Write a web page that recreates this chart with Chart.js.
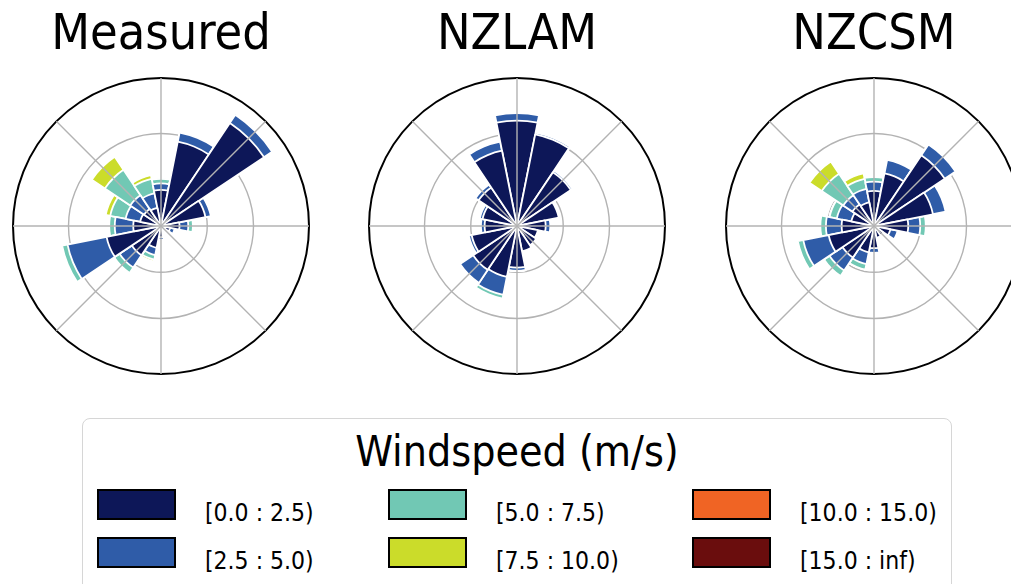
<!DOCTYPE html>
<html>
<head>
<meta charset="utf-8">
<script src="https://cdn.jsdelivr.net/npm/chart.js@4.4.1/dist/chart.umd.min.js"></script>
<style>
  html, body { margin: 0; padding: 0; background: #fff; }
  body { width: 1011px; height: 584px; overflow: hidden; position: relative;
         font-family: "DejaVu Sans Condensed", "DejaVu Sans", sans-serif; color: #000; }
  .rose { position: absolute; top: 0; width: 300px; height: 376px; }
  #legend { position: absolute; left: 82px; top: 418px; width: 870px; height: 200px;
            border: 1.5px solid #d6d6d6; border-radius: 8px; box-sizing: border-box; background: #fff; }
  #legend .title { text-align: center; font-size: 42.5px; line-height: 42px; margin-top: 12px; }
  #legend .items { display: grid; grid-template-columns: 291px 304px 260px; grid-template-rows: 48px 48px;
                   grid-auto-flow: column; margin-top: 16px; padding-left: 14px; }
  #legend .item { display: flex; align-items: flex-start; }
  #legend .patch { width: 79px; height: 31px; border: 2px solid #000; box-sizing: border-box; flex: none; }
  #legend .label { margin-left: 29px; padding-top: 12px; font-size: 24.5px; line-height: 24px; white-space: nowrap; }
</style>
</head>
<body>
<div class="rose" style="left: 11px;"><canvas id="measured"></canvas></div>
<div class="rose" style="left: 367px;"><canvas id="nzlam"></canvas></div>
<div class="rose" style="left: 724px;"><canvas id="nzcsm"></canvas></div>
<div id="legend">
  <div class="title">Windspeed (m/s)</div>
  <div class="items" id="legend-items"></div>
</div>
<script>
// =============================
// Data (frequency %, by speed bin, N -> NNW clockwise)
// =============================
const directions = ["N", "NNE", "NE", "ENE", "E", "ESE", "SE", "SSE",
                    "S", "SSW", "SW", "WSW", "W", "WNW", "NW", "NNW"];
const speedBins = ["[0.0 : 2.5)", "[2.5 : 5.0)", "[5.0 : 7.5)", "[7.5 : 10.0)", "[10.0 : 15.0)", "[15.0 : inf)"];
const binColors = ["#0d1758", "#2f5ca8", "#71c8b4", "#cbdc2a", "#f06424", "#6a0d0d"];

const measuredFreq = [
  [3.9, 9.3, 13.4, 4.9, 2.0, 1.0, 0.5, 0.6, 1.2, 2.4, 3.8, 6.0, 3.0, 2.3, 2.2, 2.0],
  [0.7, 1.0, 1.05, 0.6, 0.95, 0.5, 0.1, 0.1, 0.3, 0.8, 1.6, 4.3, 2.0, 1.6, 1.8, 1.6],
  [0.5, 0, 0, 0, 0.5, 0, 0, 0, 0, 0.5, 0.7, 0.6, 0.6, 1.7, 3.3, 1.6],
  [0, 0, 0, 0, 0, 0, 0, 0, 0, 0.2, 0, 0, 0, 0.5, 1.7, 0.4],
  [0, 0, 0, 0, 0, 0, 0, 0, 0, 0, 0, 0, 0, 0, 0, 0],
  [0, 0, 0, 0, 0, 0, 0, 0, 0, 0, 0, 0, 0, 0, 0, 0]
];
const nzlamFreq = [
  [11.4, 10.1, 7.0, 4.6, 3.1, 2.3, 2.5, 2.8, 4.5, 5.6, 5.7, 5.0, 3.5, 3.8, 5.0, 8.3],
  [0.8, 0.2, 0.2, 0.1, 0.5, 0, 0, 0, 0.35, 2.0, 1.7, 0.3, 0.4, 0.3, 0.4, 1.0],
  [0, 0, 0, 0, 0, 0, 0, 0, 0, 0.4, 0, 0, 0, 0, 0, 0],
  [0, 0, 0, 0, 0, 0, 0, 0, 0, 0, 0, 0, 0, 0, 0, 0],
  [0, 0, 0, 0, 0, 0, 0, 0, 0, 0, 0, 0, 0, 0, 0, 0],
  [0, 0, 0, 0, 0, 0, 0, 0, 0, 0, 0, 0, 0, 0, 0, 0]
];
const nzcsmFreq = [
  [3.8, 5.8, 9.2, 6.5, 3.7, 1.8, 1.2, 1.3, 2.4, 2.9, 4.1, 5.0, 3.5, 2.5, 2.8, 2.6],
  [1.0, 1.5, 1.4, 1.4, 1.3, 0.8, 0, 0, 0.5, 1.3, 1.7, 2.8, 1.7, 1.6, 1.2, 1.5],
  [0.5, 0, 0, 0, 0.6, 0, 0, 0, 0, 0.6, 0.7, 0.6, 0.6, 0.8, 2.8, 1.1],
  [0, 0, 0, 0, 0, 0, 0, 0, 0, 0, 0, 0, 0, 0, 1.6, 0.6],
  [0, 0, 0, 0, 0, 0, 0, 0, 0, 0, 0, 0, 0, 0, 0, 0],
  [0, 0, 0, 0, 0, 0, 0, 0, 0, 0, 0, 0, 0, 0, 0, 0]
];

const ringValues = [0, 5, 10, 16];   // radial grid circles, last one is the outer edge
const rMax = 16;
const spokeAngles = [0, 45, 90, 135, 180, 225, 270, 315];
const gridGrey = "#b3b3b3";
const fontFamily = '"DejaVu Sans Condensed", "DejaVu Sans", sans-serif';

// =============================
// Spokes (8 compass lines, drawn over the bars like the rings)
// =============================
const spokes = {
  id: "spokes",
  afterDatasetsDraw(chart) {
    const r = chart.scales.r;
    const ctx = chart.ctx;
    ctx.save();
    ctx.strokeStyle = gridGrey;
    ctx.lineWidth = 1.4;
    spokeAngles.forEach(a => {
      const rad = (a - 90) * Math.PI / 180;
      ctx.beginPath();
      ctx.moveTo(r.xCenter, r.yCenter);
      ctx.lineTo(r.xCenter + r.drawingArea * Math.cos(rad), r.yCenter + r.drawingArea * Math.sin(rad));
      ctx.stroke();
    });
    ctx.restore();
  }
};

// =============================
// Wind rose
// =============================
function makeRose(canvasId, title, freq) {
  // stack the bins: each dataset is the running total, smallest drawn on top
  let running = directions.map(() => 0);
  const datasets = freq.map((row, b) => {
    running = running.map((v, i) => v + row[i]);
    return {
      label: speedBins[b],
      data: running,
      backgroundColor: binColors[b],
      borderColor: "#ffffff",
      borderWidth: 1.8
    };
  });

  return new Chart(document.getElementById(canvasId), {
    type: "polarArea",
    data: { labels: directions, datasets: datasets },
    plugins: [spokes],
    options: {
      responsive: true,
      maintainAspectRatio: false,
      animation: false,
      layout: { padding: { left: 2, right: 2, top: 0, bottom: 2 } },
      plugins: {
        legend: { display: false },
        tooltip: { enabled: false },
        title: {
          display: true,
          text: title,
          color: "#000",
          font: { family: fontFamily, size: 50, weight: "normal", lineHeight: 1.2 },
          padding: { top: 6, bottom: 12 }
        }
      },
      scales: {
        r: {
          min: 0,
          max: rMax,
          startAngle: -11.25,
          z: 1,
          afterBuildTicks: axis => { axis.ticks = ringValues.map(v => ({ value: v })); },
          ticks: { display: false },
          grid: {
            circular: true,
            color: c => c.tick.value === rMax ? "#000" : gridGrey,
            lineWidth: c => c.tick.value === rMax ? 2 : 1.4
          },
          angleLines: { display: false },
          pointLabels: { display: false }
        }
      }
    }
  });
}

// =============================
// Legend
// =============================
function buildLegend() {
  const box = document.getElementById("legend-items");
  speedBins.forEach((label, b) => {
    const item = document.createElement("div");
    item.className = "item";
    item.innerHTML = `<div class="patch" style="background:${binColors[b]}"></div><div class="label">${label}</div>`;
    box.appendChild(item);
  });
}

// =============================
// Init
// =============================
makeRose("measured", "Measured", measuredFreq);
makeRose("nzlam", "NZLAM", nzlamFreq);
makeRose("nzcsm", "NZCSM", nzcsmFreq);
buildLegend();
</script>
</body>
</html>
